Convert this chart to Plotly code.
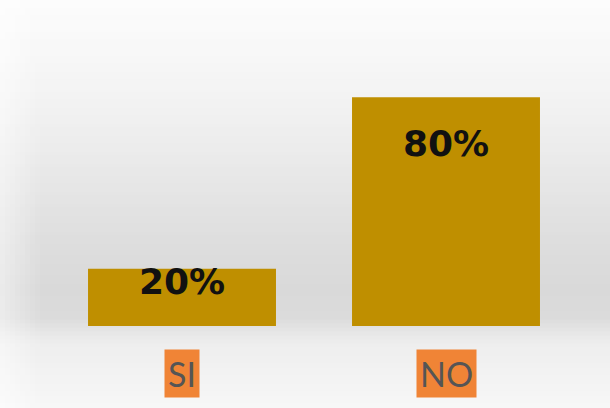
import plotly.graph_objects as go

categories = ["SI", "NO"]
values = [20, 80]
labels = ["20%", "80%"]

BAR_COLOR = "#BF8F00"
W, H = 610, 408

fig = go.Figure()
fig.add_trace(go.Bar(
    x=categories, y=values, marker=dict(color=BAR_COLOR, line=dict(width=0)),
    width=0.712, hoverinfo="skip",
))

# background vertical gradient bands (paper coords)
stops = [(0, 252), (60, 247), (120, 240), (180, 231), (240, 222), (290, 217),
         (318, 219), (332, 230), (345, 238), (380, 243), (408, 247)]
def shade(ypx):
    for (y0, c0), (y1, c1) in zip(stops[:-1], stops[1:]):
        if y0 <= ypx <= y1:
            t = (ypx - y0) / (y1 - y0)
            return int(round(c0 + (c1 - c0) * t))
    return stops[-1][1]

shapes = []
n = 102
for i in range(n):
    ya = i * H / n
    yb = (i + 1) * H / n
    c = shade((ya + yb) / 2)
    shapes.append(dict(type="rect", xref="paper", yref="paper", layer="below",
                       x0=-50 / 528, x1=(W - 50) / 528,
                       y0=1 - (yb - 40) / 286 - 0.002, y1=1 - (ya - 40) / 286 + 0.002,
                       fillcolor=f"rgb({c},{c},{c})", line=dict(width=0)))
# left / right edge fade to white
for k in range(8):
    a = 0.45 * (1 - k / 8)
    shapes.append(dict(type="rect", xref="paper", yref="paper", layer="below",
                       x0=(-50 + k * 5) / 528, x1=(-50 + (k + 1) * 5) / 528,
                       y0=-82 / 286, y1=1 + 40 / 286,
                       fillcolor=f"rgba(255,255,255,{a:.2f})", line=dict(width=0)))

annotations = []
for c, v, t in zip(categories, values, labels):
    annotations.append(dict(x=c, y=v * 0.8, xref="x", yref="y", text=t, showarrow=False,
                            yanchor="middle", yshift=-1,
                            font=dict(family="DejaVu Sans", size=36, color="#111111", weight="bold")))
    annotations.append(dict(x=c, y=-47 / 286, xref="x", yref="paper", text=c, showarrow=False,
                            yanchor="middle", bgcolor="#F08436", borderpad=3, height=41,
                            font=dict(family="Lato", size=34, color="#555555")))

fig.update_layout(
    width=W, height=H,
    margin=dict(l=50, r=32, t=40, b=82),
    paper_bgcolor="#F4F4F4", plot_bgcolor="rgba(0,0,0,0)",
    showlegend=False,
    bargap=0.288,
    xaxis=dict(range=[-0.5, 1.5], showticklabels=False, showgrid=False, zeroline=False,
               showline=False, ticks=""),
    yaxis=dict(range=[0, 100], visible=False, showgrid=False, zeroline=False),
    shapes=shapes,
    annotations=annotations,
)

fig.write_html("out.html")
